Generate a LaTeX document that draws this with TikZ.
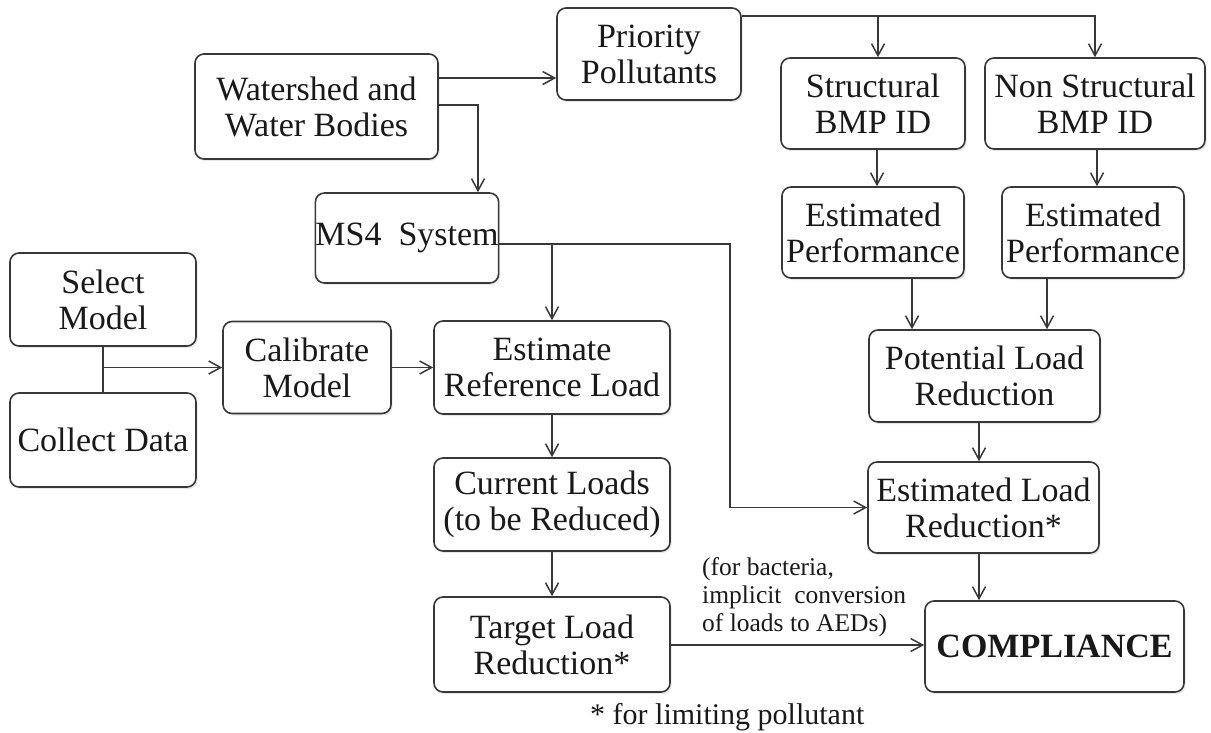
\documentclass[tikz,border=0pt]{standalone}
\usepackage{fontspec}
\setmainfont{Liberation Serif}
\usetikzlibrary{arrows.meta,shadows}

\begin{document}
\begin{tikzpicture}[x=1pt,y=-1pt,
  box/.style={draw=black!78, line width=1.6pt, rounded corners=9pt, fill=white,
    drop shadow={opacity=0.18, shadow xshift=1.5pt, shadow yshift=-2pt},
    align=center, inner sep=0pt, text=black!90,
    font=\fontsize{34}{36}\selectfont},
  arr/.style={draw=black!78, line width=1.5pt,
    -{Straight Barb[length=12pt,width=13pt,line width=1.5pt]}},
  link/.style={draw=black!78, line width=1.5pt},
  note/.style={align=left, inner sep=0pt, text=black!90,
    font=\fontsize{25.5}{28}\selectfont},
]
\useasboundingbox (0,0) rectangle (1211,732);

% boxes
\node[box, minimum width=243pt, minimum height=105pt] (ws)   at (316.5,106.5) {Watershed and\\Water Bodies};
\node[box, minimum width=184pt, minimum height=92pt]  (pp)   at (649,54)      {Priority\\Pollutants};
\node[box, minimum width=182pt, minimum height=90pt]  (ms4)  at (407,238)     {MS4\ \ System};
\node[box, minimum width=186pt, minimum height=93pt]  (sel)  at (103,299.5)   {Select\\Model};
\node[box, minimum width=186pt, minimum height=94pt]  (col)  at (103,440)     {Collect Data};
\node[box, minimum width=168pt, minimum height=92pt]  (cal)  at (307,367.5)   {Calibrate\\Model};
\node[box, minimum width=236pt, minimum height=93pt]  (erl)  at (552,367.5)   {Estimate\\Reference Load};
\node[box, minimum width=236pt, minimum height=93pt]  (cur)  at (552,504.5)   {Current Loads\\(to be Reduced)};
\node[box, minimum width=236pt, minimum height=95pt]  (tlr)  at (552,644.5)   {Target Load\\Reduction*};
\node[box, minimum width=184pt, minimum height=91pt]  (sb)   at (873,103.5)   {Structural\\BMP ID};
\node[box, minimum width=220pt, minimum height=91pt]  (nsb)  at (1095,103.5)  {Non Structural\\BMP ID};
\node[box, minimum width=182pt, minimum height=91pt]  (ep1)  at (873,232.5)   {Estimated\\Performance};
\node[box, minimum width=182pt, minimum height=91pt]  (ep2)  at (1093,232.5)  {Estimated\\Performance};
\node[box, minimum width=231pt, minimum height=92pt]  (plr)  at (984.5,376)   {Potential Load\\Reduction};
\node[box, minimum width=231pt, minimum height=91pt]  (elr)  at (983.5,507.5) {Estimated Load\\Reduction*};
\node[box, minimum width=259pt, minimum height=91pt]  (comp) at (1054.5,646.5) {\textbf{COMPLIANCE}};

% free texts
\node[note, anchor=west] (bact) at (702,597) {(for bacteria,\\implicit\ \ conversion\\of loads to AEDs)};
\node[anchor=base west, inner sep=0pt, text=black!90, font=\fontsize{30}{32}\selectfont]
  (foot) at (590,724) {*\ for limiting\ pollutant};

% junction points
\coordinate (jp) at (878,16);
\coordinate (jm) at (730,244);

% connectors
\draw[arr] (ws.east |- 0,78) -- (pp.west |- 0,78);
\draw[arr] (ws.east |- 0,105) -| (ms4.north -| 478,0);
\draw[arr] (pp.east |- jp) -| (nsb.north);
\draw[arr] (jp) -- (sb.north -| jp);
\draw[arr] (sb.south -| 877,0) -- (ep1.north -| 877,0);
\draw[arr] (nsb.south -| 1097,0) -- (ep2.north -| 1097,0);
\draw[arr] (ep1.south -| 912,0) -- (plr.north -| 912,0);
\draw[arr] (ep2.south -| 1047,0) -- (plr.north -| 1047,0);
\draw[arr] (plr.south -| 979,0) -- (elr.north -| 979,0);
\draw[arr] (elr.south -| 979,0) -- (comp.north -| 979,0);
\draw[arr] (ms4.east |- jm) -- (jm) |- (elr.west);
\draw[arr] (erl.north |- jm) -- (erl.north);
\draw[link] (sel.south) -- (col.north);
\draw[arr] (sel.south |- cal.west) -- (cal.west);
\draw[arr] (cal.east) -- (erl.west);
\draw[arr] (erl.south) -- (cur.north);
\draw[arr] (cur.south) -- (tlr.north);
\draw[arr] (tlr.east |- 0,645) -- (comp.west |- 0,645);
\end{tikzpicture}
\end{document}
